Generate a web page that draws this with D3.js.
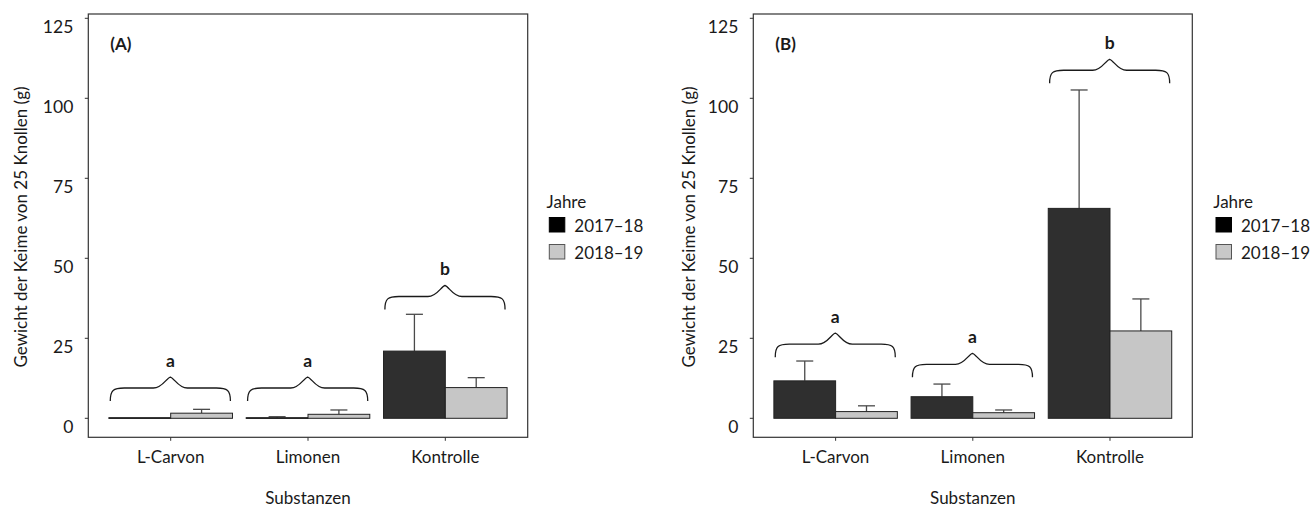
<!DOCTYPE html>
<html><head><meta charset="utf-8">
<script src="https://cdn.jsdelivr.net/npm/d3@7"></script>
<style>html,body{margin:0;padding:0;background:#fff}svg{display:block}text{font-family:Lato,"Open Sans",sans-serif;fill:#1a1a1a}</style>
</head><body><svg id="c" width="1311" height="507"></svg>
<script>
// ---- data ----
const categories = ["L-Carvon", "Limonen", "Kontrolle"];
const seriesNames = ["2017–18", "2018–19"];
const yTicks = [0, 25, 50, 75, 100, 125];
// Panel A
const a2017 = [0.2, 0.2, 21.0];
const a2017se = [0, 0.3, 11.5];
const a2018 = [1.6, 1.25, 9.6];
const a2018se = [1.2, 1.35, 3.1];
const aLetters = ["a", "a", "b"];
const aBrace = [5.4, 5.4, 34.0];
// Panel B
const b2017 = [11.7, 6.75, 65.6];
const b2017se = [6.2, 3.95, 37.0];
const b2018 = [2.1, 1.75, 27.3];
const b2018se = [1.8, 0.85, 10.0];
const bLetters = ["a", "a", "b"];
const bBrace = [19.1, 12.8, 104.7];

const panels = [
  {tag: "(A)", left: 88.3, right: 527.7, v: [a2017, a2018], se: [a2017se, a2018se], letters: aLetters, brace: aBrace, ytx: 20, legX: 549.3},
  {tag: "(B)", left: 753.3, right: 1192.3, v: [b2017, b2018], se: [b2017se, b2018se], letters: bLetters, brace: bBrace, ytx: 688, legX: 1216}
];
const fills = ["#2f2f2f", "#c6c6c6"];
const legFills = ["#000000", "#c8c8c8"];
const plotTop = 14, plotBottom = 437.3;
const svg = d3.select("#c");
const FS = 17;

panels.forEach(p => {
  const g = svg.append("g");
  const x = d3.scalePoint().domain(categories).range([p.left, p.right]).padding(0.6);
  const step = x.step();
  const xs = d3.scaleBand().domain(seriesNames).range([-0.45 * step, 0.45 * step]).paddingInner(0);
  const y = d3.scaleLinear().domain([0, 125]).range([418.3, 18.3]);

  // bars
  seriesNames.forEach((s, si) => {
    categories.forEach((c, ci) => {
      const val = p.v[si][ci];
      const x0 = x(c) + xs(s);
      const bw = xs.bandwidth();
      const e = p.se[si][ci];
      if (e > 0) {
        const cx = x0 + bw / 2;
        g.append("line").attr("x1", cx).attr("x2", cx).attr("y1", y(val)).attr("y2", y(val + e))
          .attr("stroke", "#4a4a4a").attr("stroke-width", 1.3);
        g.append("line").attr("x1", cx - 0.062 * step).attr("x2", cx + 0.062 * step).attr("y1", y(val + e)).attr("y2", y(val + e))
          .attr("stroke", "#4a4a4a").attr("stroke-width", 1.3);
      }
      g.append("rect").attr("x", x0).attr("width", bw)
        .attr("y", y(val)).attr("height", Math.max(0.8, y(0) - y(val)))
        .attr("fill", fills[si]).attr("stroke", "#222").attr("stroke-width", 1);
    });
  });

  // braces + letters
  categories.forEach((c, ci) => {
    const x0 = x(c) - 0.44 * step, x1 = x(c) + 0.435 * step, xm = (x0 + x1) / 2;
    const yEnd = y(p.brace[ci]);
    const yFlat = yEnd - 13, yPeak = yFlat - 11;
    const path = d3.path();
    path.moveTo(x0, yEnd);
    path.bezierCurveTo(x0, yFlat + 2, x0 + 3, yFlat, x0 + 14, yFlat);
    path.lineTo(xm - 17, yFlat);
    path.bezierCurveTo(xm - 8, yFlat, xm - 4, yPeak + 1, xm, yPeak);
    path.bezierCurveTo(xm + 4, yPeak + 1, xm + 8, yFlat, xm + 17, yFlat);
    path.lineTo(x1 - 14, yFlat);
    path.bezierCurveTo(x1 - 3, yFlat, x1, yFlat + 2, x1, yEnd);
    g.append("path").attr("d", path.toString()).attr("fill", "none").attr("stroke", "#1a1a1a").attr("stroke-width", 1.3);
    g.append("text").attr("x", xm).attr("y", yPeak - 17).attr("text-anchor", "middle")
      .attr("dominant-baseline", "central").attr("font-weight", "bold").attr("font-size", FS + 0.5).text(p.letters[ci]);
  });

  // frame
  g.append("rect").attr("x", p.left).attr("y", plotTop).attr("width", p.right - p.left).attr("height", plotBottom - plotTop)
    .attr("fill", "none").attr("stroke", "#333").attr("stroke-width", 1.2);

  // y ticks
  yTicks.forEach(t => {
    g.append("line").attr("x1", p.left - 3.5).attr("x2", p.left).attr("y1", y(t)).attr("y2", y(t)).attr("stroke", "#333");
    g.append("text").attr("x", p.left - 15).attr("y", y(t) + 8).attr("text-anchor", "end")
      .attr("dominant-baseline", "central").attr("font-size", FS + 0.5).text(t);
  });
  // x ticks
  categories.forEach(c => {
    g.append("line").attr("x1", x(c)).attr("x2", x(c)).attr("y1", plotBottom).attr("y2", plotBottom + 3.5).attr("stroke", "#333");
    g.append("text").attr("x", x(c)).attr("y", 456.7).attr("text-anchor", "middle")
      .attr("dominant-baseline", "central").attr("font-size", FS).text(c);
  });
  // axis titles
  g.append("text").attr("x", (p.left + p.right) / 2).attr("y", 497).attr("text-anchor", "middle")
    .attr("dominant-baseline", "central").attr("font-size", FS).text("Substanzen");
  g.append("text").attr("transform", `translate(${p.ytx},227) rotate(-90)`).attr("text-anchor", "middle")
    .attr("dominant-baseline", "central").attr("font-size", FS).text("Gewicht der Keime von 25 Knollen (g)");
  // panel tag
  g.append("text").attr("x", p.left + 22).attr("y", 43.5).attr("dominant-baseline", "central")
    .attr("font-weight", "bold").attr("font-size", FS).text(p.tag);

  // legend
  const lg = g.append("g");
  lg.append("text").attr("x", p.legX - 2.7).attr("y", 201).attr("dominant-baseline", "central").attr("font-size", FS).text("Jahre");
  seriesNames.forEach((s, si) => {
    const ky = 217.5 + si * 27;
    lg.append("rect").attr("x", p.legX).attr("y", ky).attr("width", 15.5).attr("height", 14.5)
      .attr("fill", legFills[si]).attr("stroke", si ? "#555" : "#000").attr("stroke-width", 1);
    lg.append("text").attr("x", p.legX + 25).attr("y", ky + 7.5).attr("dominant-baseline", "central")
      .attr("font-size", FS).text(s);
  });
});
</script></body></html>
